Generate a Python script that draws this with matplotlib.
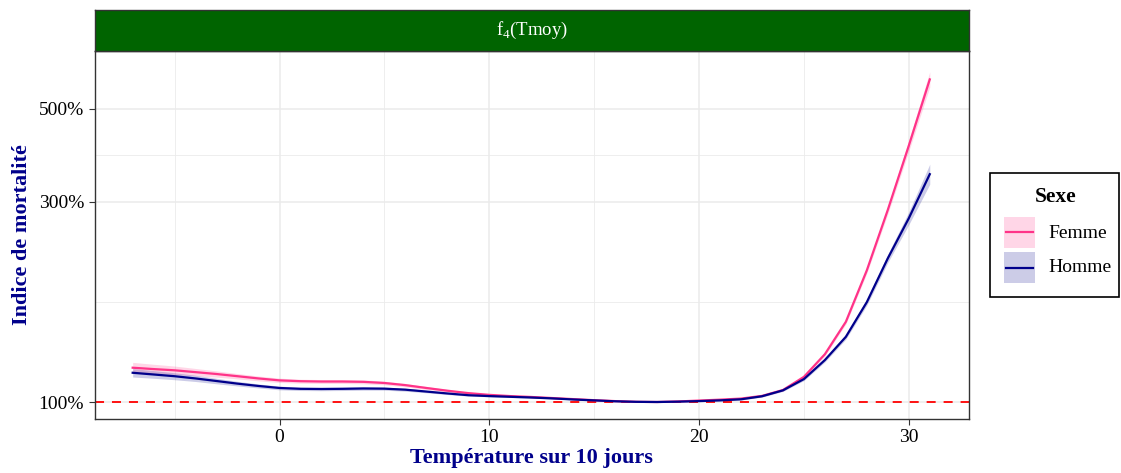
import matplotlib
matplotlib.use("Agg")
import matplotlib.pyplot as plt
import matplotlib.ticker as mticker
from matplotlib.patches import Rectangle
from matplotlib.lines import Line2D

plt.rcParams['font.family'] = ['Liberation Serif', 'DejaVu Serif']
plt.rcParams['mathtext.fontset'] = 'custom'
plt.rcParams['mathtext.rm'] = 'Liberation Serif'

# temperature grid (10-day mean)
temp = list(range(-7, 32))

series = ["Femme", "Homme"]
line_colors = ["#FF3388", "#00008B"]
fill_colors = ["#FF3388", "#00008B"]

femme = [1.207, 1.198, 1.190, 1.178, 1.166, 1.152, 1.138, 1.126, 1.121, 1.119,
         1.119, 1.117, 1.110, 1.097, 1.080, 1.064, 1.050, 1.040, 1.033, 1.028,
         1.022, 1.016, 1.010, 1.005, 1.001, 1.000, 1.003, 1.008, 1.013, 1.019,
         1.034, 1.068, 1.148, 1.300, 1.553, 2.060, 2.870, 4.080, 5.870]
femme_lo = [1.172, 1.167, 1.163, 1.155, 1.146, 1.135, 1.123, 1.113, 1.109, 1.107,
            1.107, 1.105, 1.099, 1.087, 1.071, 1.057, 1.044, 1.035, 1.029, 1.024,
            1.019, 1.013, 1.008, 1.004, 1.000, 1.000, 1.002, 1.006, 1.010, 1.015,
            1.029, 1.062, 1.140, 1.288, 1.534, 2.027, 2.807, 3.959, 5.629]
femme_hi = [1.243, 1.230, 1.218, 1.202, 1.186, 1.169, 1.153, 1.140, 1.133, 1.131,
            1.131, 1.129, 1.121, 1.107, 1.089, 1.071, 1.056, 1.045, 1.037, 1.032,
            1.025, 1.019, 1.012, 1.006, 1.002, 1.000, 1.004, 1.010, 1.016, 1.023,
            1.039, 1.074, 1.156, 1.312, 1.572, 2.093, 2.934, 4.204, 6.122]

homme = [1.174, 1.163, 1.152, 1.138, 1.122, 1.106, 1.092, 1.080, 1.075, 1.074,
         1.075, 1.077, 1.076, 1.070, 1.059, 1.048, 1.038, 1.033, 1.029, 1.025,
         1.020, 1.014, 1.009, 1.004, 1.001, 1.000, 1.002, 1.005, 1.009, 1.015,
         1.032, 1.066, 1.134, 1.259, 1.430, 1.730, 2.200, 2.740, 3.490]
homme_lo = [1.147, 1.139, 1.130, 1.119, 1.105, 1.092, 1.080, 1.069, 1.065, 1.064,
            1.065, 1.067, 1.067, 1.061, 1.052, 1.042, 1.033, 1.029, 1.025, 1.022,
            1.017, 1.012, 1.007, 1.003, 1.000, 1.000, 1.001, 1.003, 1.006, 1.011,
            1.027, 1.060, 1.125, 1.246, 1.412, 1.701, 2.150, 2.646, 3.303]
homme_hi = [1.201, 1.188, 1.174, 1.158, 1.139, 1.120, 1.104, 1.091, 1.085, 1.084,
            1.085, 1.087, 1.085, 1.079, 1.066, 1.054, 1.043, 1.037, 1.033, 1.028,
            1.023, 1.016, 1.011, 1.005, 1.002, 1.000, 1.003, 1.007, 1.012, 1.019,
            1.037, 1.072, 1.143, 1.272, 1.449, 1.760, 2.251, 2.838, 3.688]

x_ticks = [0, 10, 20, 30]
x_minor = [-5, 5, 15, 25]
y_ticks = [1, 3, 5]
y_minor = [3 ** 0.5, 15 ** 0.5]

W, H = 1121, 473
fig = plt.figure(figsize=(W / 100, H / 100), dpi=100)

px = lambda x0, y0, x1, y1: [x0 / W, 1 - y1 / H, (x1 - x0) / W, (y1 - y0) / H]
ax = fig.add_axes(px(94.5, 51, 969, 419))
strip = fig.add_axes(px(94.5, 10, 969, 51))

ax.set_yscale('log')
ax.set_xlim(-8.82, 32.87)
ax.set_ylim(0.911, 6.86)

for v in x_ticks:
    ax.axvline(v, color="#EBEBEB", lw=1.1, zorder=0)
for v in x_minor:
    ax.axvline(v, color="#EBEBEB", lw=0.6, zorder=0)
for v in y_ticks:
    ax.axhline(v, color="#EBEBEB", lw=1.1, zorder=0)
for v in y_minor:
    ax.axhline(v, color="#EBEBEB", lw=0.6, zorder=0)

ax.axhline(1, color="red", lw=1.3, dashes=(5.0, 4.4), zorder=1)

data = [(femme, femme_lo, femme_hi), (homme, homme_lo, homme_hi)]
for (mid, lo, hi), lc, fc in zip(data, line_colors, fill_colors):
    ax.fill_between(temp, lo, hi, color=fc, alpha=0.2, lw=0, zorder=2)
    ax.plot(temp, mid, color=lc, lw=1.6, zorder=3)

ax.set_xticks(x_ticks)
ax.set_yticks(y_ticks)
ax.yaxis.set_minor_locator(mticker.NullLocator())
ax.yaxis.set_major_formatter(mticker.FuncFormatter(lambda v, p: f"{v * 100:.0f}%"))
ax.tick_params(axis='both', labelsize=14, colors="#333333", length=4.5, width=0.8,
               labelcolor="black", pad=3)
for s in ax.spines.values():
    s.set_color("#333333")
    s.set_linewidth(1.0)

ax.set_xlabel("Température sur 10 jours", fontsize=16, fontweight='bold',
              color="#00008B", labelpad=1)
ax.set_ylabel("Indice de mortalité", fontsize=16, fontweight='bold',
              color="#00008B", labelpad=5)

# facet strip
strip.set_facecolor("#006400")
strip.set_xticks([])
strip.set_yticks([])
for s in strip.spines.values():
    s.set_color("#333333")
    s.set_linewidth(1.0)
strip.text(0.5, 0.5, r"f$_{\mathrm{4}}$(Tmoy)", color="white", fontsize=13.5,
           ha='center', va='center', transform=strip.transAxes)

# legend box
fig.patches.append(Rectangle((990 / W, 1 - 297 / H), 129 / W, 124 / H,
                             transform=fig.transFigure, fill=False,
                             edgecolor="black", lw=1.2))
fig.text(1056 / W, 1 - 197 / H, "Sexe", fontsize=15.5, fontweight='bold',
         ha='center', va='center')
for i, (name, lc, fc) in enumerate(zip(series, line_colors, fill_colors)):
    top = 217 + i * 35
    fig.patches.append(Rectangle((1004 / W, 1 - (top + 31) / H), 31 / W, 31 / H,
                                 transform=fig.transFigure, facecolor=fc,
                                 alpha=0.2, lw=0))
    fig.add_artist(Line2D([1006 / W, 1033 / W], [1 - (top + 15.5) / H] * 2,
                          color=lc, lw=1.6, transform=fig.transFigure))
    fig.text(1048 / W, 1 - (top + 16) / H, name, fontsize=14, ha='left', va='center')

fig.savefig("out.png", dpi=100)
